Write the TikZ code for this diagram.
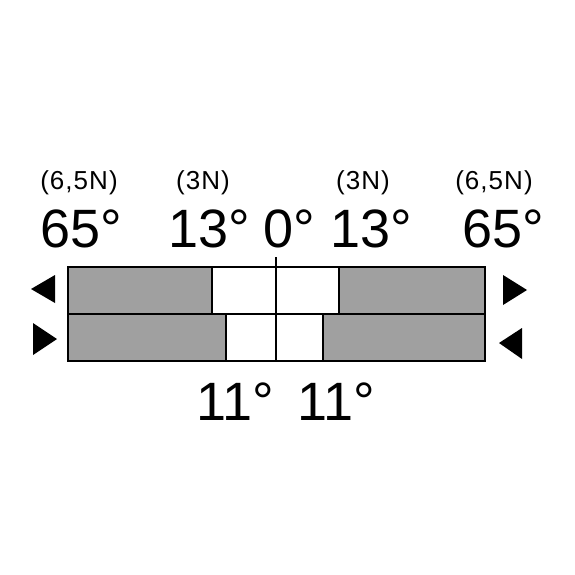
\documentclass[tikz,border=0pt]{standalone}
\usepackage{fontspec}
\setmainfont{Liberation Sans}
\usetikzlibrary{positioning}
\definecolor{padgray}{RGB}{160,160,160}
\tikzset{
    bar/.style={draw, line width=1.6pt}, % outline of each bar segment
    pad/.style={bar, fill=padgray}, % grey part of a bar
    angle/.style={font=\fontsize{54}{54}\selectfont, anchor=base, inner sep=0pt}, % big angle labels
    force/.style={font=\fontsize{26}{26}\selectfont\addfontfeature{LetterSpace=4}, anchor=base, inner sep=0pt}, % forces in brackets
    tip/.style={fill=black}, % direction triangles
}
\begin{document}
\begin{tikzpicture}[x=1pt, y=-1pt]
    \useasboundingbox (0,0) rectangle (575,575);

    % upper bar
    \draw[pad] (68,267) rectangle (212,314);
    \draw[bar] (212,267) rectangle (339,314);
    \draw[pad] (339,267) rectangle (485,314);
    % lower bar
    \draw[pad] (68,314) rectangle (226,361);
    \draw[bar] (226,314) rectangle (323,361);
    \draw[pad] (323,314) rectangle (485,361);
    % middle line
    \coordinate (mtop) at (276,257);
    \coordinate (mbot) at (276,361);
    \draw[line width=1.4pt] (mtop) -- (mbot);

    % triangles
    \fill[tip] (55,275) -- (55,303) -- (31,289) -- cycle;
    \fill[tip] (33,323) -- (33,355) -- (57,339) -- cycle;
    \fill[tip] (503,275) -- (503,305) -- (527,290) -- cycle;
    \fill[tip] (522,328) -- (522,359) -- (499,343) -- cycle;

    % labels
    \node[force] (fl) at (79,189) {(6,5N)};
    \node[force] (fml) at (203,189) {(3N)};
    \node[force] (fmr) at (363,189) {(3N)};
    \node[force] (fr) at (494,189) {(6,5N)};

    \node[angle] (al) at (81,247) {65°};
    \node[angle] (aml) at (209,247) {13°};
    \node[angle] (am) at (289,247) {0°};
    \node[angle] (amr) at (371,247) {13°};
    \node[angle] (ar) at (503,247) {65°};

    \node[angle] (bl) at (235,420) {11°};
    \node[angle] (br) at (336,420) {11°};
\end{tikzpicture}
\end{document}
